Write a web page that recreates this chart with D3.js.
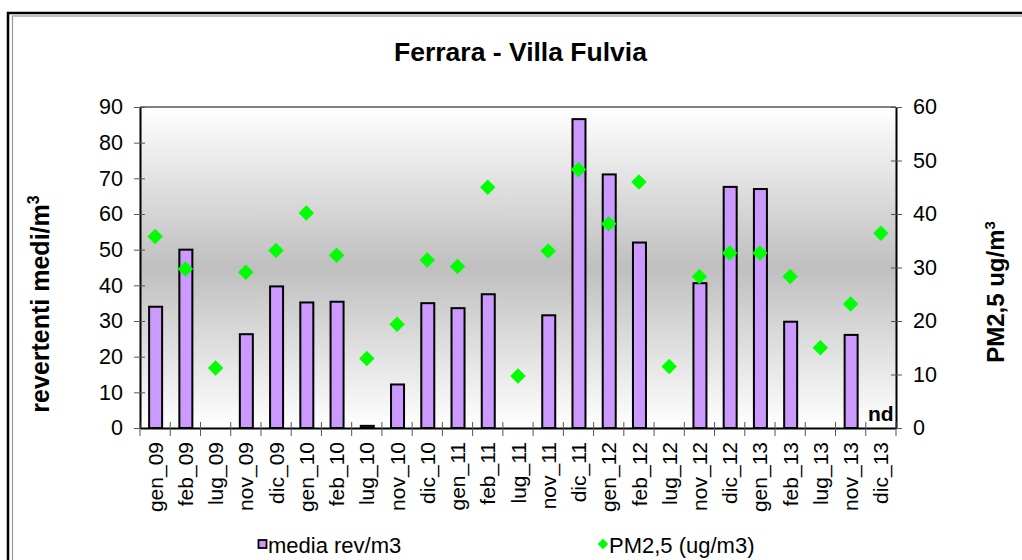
<!DOCTYPE html>
<html><head><meta charset="utf-8">
<script src="https://cdn.jsdelivr.net/npm/d3@7"></script>
<style>
body{margin:0;background:#fff;}
text{font-family:"Liberation Sans",Arial,sans-serif;fill:#000;}
</style></head>
<body><svg id="c" width="1022" height="560"></svg>
<script>
const categories = ["gen_09","feb_09","lug_09","nov_09","dic_09","gen_10","feb_10","lug_10","nov_10","dic_10","gen_11","feb_11","lug_11","nov_11","dic_11","gen_12","feb_12","lug_12","nov_12","dic_12","gen_13","feb_13","lug_13","nov_13","dic_13"];
const revValues = [34,50,null,26.3,39.7,35.2,35.4,0.6,12.2,35,33.6,37.5,null,31.6,86.6,71.1,52,null,40.6,67.6,67,29.8,null,26.1,null];
const pmValues = [35.8,29.7,11.2,29.1,33.2,40.2,32.3,13,19.4,31.4,30.2,45,9.7,33.1,48.3,38.2,46,11.5,28.3,32.7,32.7,28.3,15,23.2,36.4];
const leftTicks = [0,10,20,30,40,50,60,70,80,90];
const rightTicks = [0,10,20,30,40,50,60];
const title = "Ferrara - Villa Fulvia";
const seriesNames = ["media rev/m3","PM2,5 (ug/m3)"];
const ndCategory = "dic_13";

const svg = d3.select("#c");
const L=140,R=896,T=107,B=428;
const x = d3.scaleBand(categories,[L,R]);
const yL = d3.scaleLinear([0,90],[B,T]);
const yR = d3.scaleLinear([0,60],[B,T]);

// outer border
svg.append("rect").attr("x",8).attr("y",13).attr("width",1030).attr("height",560)
  .attr("fill","none").attr("stroke","#000").attr("stroke-width",2.5);
svg.append("rect").attr("x",12.5).attr("y",16).attr("width",1030).attr("height",560)
  .attr("fill","none").attr("stroke","#999").attr("stroke-width",1.2);

// gradient plot area
const defs = svg.append("defs");
const g = defs.append("linearGradient").attr("id","bg").attr("x1",0).attr("y1",0).attr("x2",0).attr("y2",1);
g.append("stop").attr("offset","0%").attr("stop-color","#ffffff");
g.append("stop").attr("offset","50%").attr("stop-color","#bfbfbf");
g.append("stop").attr("offset","100%").attr("stop-color","#ffffff");
svg.append("rect").attr("x",L).attr("y",T).attr("width",R-L).attr("height",B-T).attr("fill","url(#bg)");
svg.append("line").attr("x1",L).attr("x2",R).attr("y1",T).attr("y2",T).attr("stroke","#808080").attr("stroke-width",2);

// title
svg.append("text").attr("x",520.5).attr("y",61).attr("text-anchor","middle")
  .style("font-size","26.5px").style("font-weight","bold").text(title);

// bars
const bw = 13;
svg.append("g").selectAll("rect").data(categories.map((c,i)=>({c,v:revValues[i]})).filter(d=>d.v!=null))
  .join("rect")
  .attr("x",d=>x(d.c)+x.bandwidth()/2-bw/2+0.5)
  .attr("y",d=>yL(d.v))
  .attr("width",bw)
  .attr("height",d=>Math.max(1,yL(0)-yL(d.v)))
  .attr("fill","#cc99ff").attr("stroke","#000").attr("stroke-width",2);

// axes
const axL = svg.append("g").attr("transform",`translate(${L},0)`)
  .call(d3.axisLeft(yL).tickValues(leftTicks).tickSize(6).tickPadding(11).tickSizeOuter(0));
axL.select(".domain").attr("stroke","#000").attr("stroke-width",2);
axL.selectAll(".tick line").attr("x1",5).attr("x2",-6).attr("stroke","#555");
axL.selectAll("text").style("font-size","21.5px").attr("x",-17);

const axR = svg.append("g").attr("transform",`translate(${R},0)`)
  .call(d3.axisRight(yR).tickValues(rightTicks).tickSize(6).tickPadding(11).tickSizeOuter(0));
axR.select(".domain").attr("stroke","#000").attr("stroke-width",2);
axR.selectAll(".tick line").attr("x1",-5).attr("x2",6).attr("stroke","#555");
axR.selectAll("text").style("font-size","21.5px").attr("x",17);

const axB = svg.append("g").attr("transform",`translate(0,${B})`)
  .call(d3.axisBottom(x).tickSize(0).tickSizeOuter(0));
axB.select(".domain").attr("stroke","#000").attr("stroke-width",2);
axB.selectAll("text").style("font-size","21px")
  .attr("transform","rotate(-90)").attr("x",-14).attr("y",0).attr("dy","0.36em")
  .attr("text-anchor","end");
// boundary ticks
const bounds = categories.map(c=>x(c)).concat([R]);
svg.append("g").selectAll("line").data(bounds).join("line")
  .attr("x1",d=>d).attr("x2",d=>d).attr("y1",B-6).attr("y2",B+8)
  .attr("stroke","#555").attr("stroke-width",1);

// diamonds
const diamond = {draw(ctx,size){const r=Math.sqrt(size)/2;ctx.moveTo(0,-r);ctx.lineTo(r,0);ctx.lineTo(0,r);ctx.lineTo(-r,0);ctx.closePath();}};
svg.append("g").selectAll("path").data(categories.map((c,i)=>({c,v:pmValues[i]})))
  .join("path")
  .attr("d",d3.symbol(diamond,240))
  .attr("transform",d=>`translate(${x(d.c)+x.bandwidth()/2},${yR(d.v)})`)
  .attr("fill","#00ff00");

// nd label
svg.append("text").attr("x",x(ndCategory)+x.bandwidth()/2).attr("y",B-7)
  .attr("text-anchor","middle").style("font-size","21px").style("font-weight","bold").text("nd");

// axis titles
svg.append("text").attr("transform","translate(49,304) rotate(-90)").attr("text-anchor","middle")
  .style("font-size","25px").style("font-weight","bold")
  .html('revertenti medi/m<tspan dy="-10" style="font-size:16px">3</tspan>');
svg.append("text").attr("transform","translate(1004,292) rotate(-90)").attr("text-anchor","middle")
  .style("font-size","24px").style("font-weight","bold")
  .html('PM2,5 ug/m<tspan dy="-9" style="font-size:15px">3</tspan>');

// legend
svg.append("rect").attr("x",258.5).attr("y",540).attr("width",8).attr("height",8)
  .attr("fill","#cc99ff").attr("stroke","#000").attr("stroke-width",1.8);
svg.append("text").attr("x",268).attr("y",553).style("font-size","22px").text(seriesNames[0]);
svg.append("path").attr("d",d3.symbol(diamond,110)).attr("transform","translate(603,544)").attr("fill","#00ff00");
svg.append("text").attr("x",609).attr("y",553).style("font-size","22px").text(seriesNames[1]);
</script></body></html>
